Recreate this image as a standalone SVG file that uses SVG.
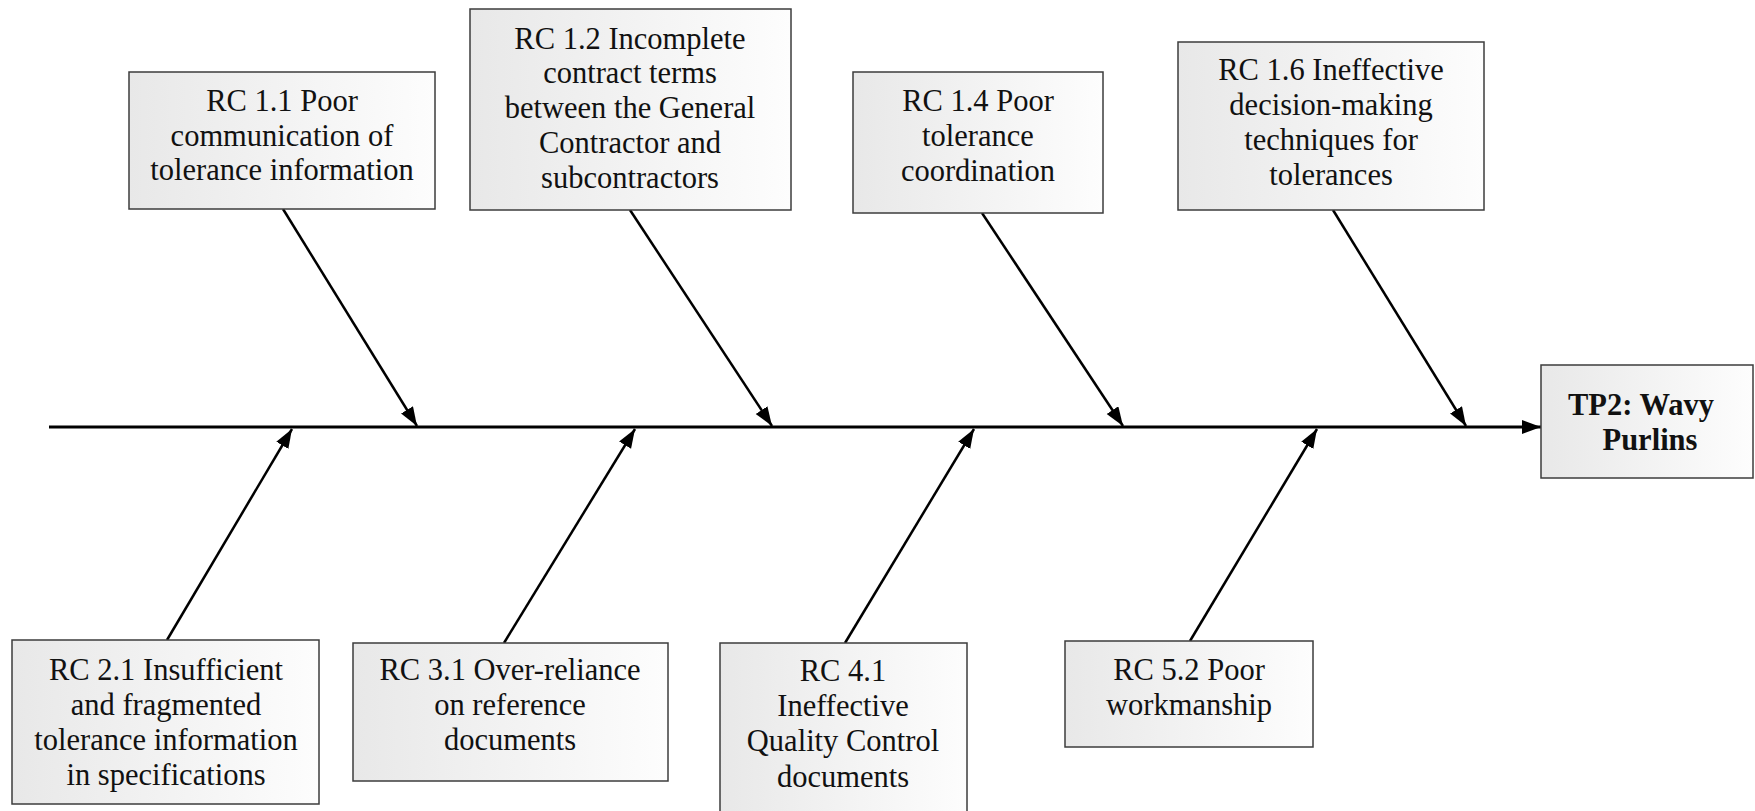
<svg xmlns="http://www.w3.org/2000/svg" width="1755" height="811" viewBox="0 0 1755 811">
  <defs>
    <linearGradient id="boxfill" x1="0" y1="0" x2="1" y2="0">
      <stop offset="0" stop-color="#e8e8e8"/>
      <stop offset="1" stop-color="#fdfdfd"/>
    </linearGradient>
    <marker id="arrow" markerUnits="userSpaceOnUse" markerWidth="20" markerHeight="15" refX="19" refY="7" orient="auto">
      <path d="M0,0 L19,7 L0,14 z" fill="#000"/>
    </marker>
    <style>
      .box { fill: url(#boxfill); stroke: #3c3c3c; stroke-width: 1.5; }
      .t { font-family: "Liberation Serif", "Times New Roman", serif; font-size: 30.5px; fill: #111; text-anchor: middle; }
      .tb { font-family: "Liberation Serif", "Times New Roman", serif; font-size: 30.5px; font-weight: bold; fill: #111; text-anchor: middle; }
      .line { stroke: #000; stroke-width: 2.5; fill: none; }
      .spine { stroke: #000; stroke-width: 3; fill: none; }
    </style>
  </defs>
  <rect width="1755" height="811" fill="#fff"/>

  <g id="connectors">
    <line class="spine" x1="49" y1="427" x2="1541" y2="427" marker-end="url(#arrow)"/>
    <line class="line" x1="283" y1="209" x2="417" y2="426" marker-end="url(#arrow)"/>
    <line class="line" x1="630" y1="210" x2="772" y2="426" marker-end="url(#arrow)"/>
    <line class="line" x1="982" y1="213" x2="1123" y2="426" marker-end="url(#arrow)"/>
    <line class="line" x1="1333" y1="210" x2="1466" y2="426" marker-end="url(#arrow)"/>
    <line class="line" x1="167" y1="640" x2="292" y2="429" marker-end="url(#arrow)"/>
    <line class="line" x1="504" y1="643" x2="635" y2="429" marker-end="url(#arrow)"/>
    <line class="line" x1="845" y1="643" x2="974" y2="429" marker-end="url(#arrow)"/>
    <line class="line" x1="1190" y1="641" x2="1317" y2="429" marker-end="url(#arrow)"/>
  </g>

  <g id="rc11">
    <rect class="box" x="129" y="72" width="306" height="137"/>
    <text class="t" x="282" y="111">RC 1.1 Poor</text>
    <text class="t" x="282" y="146">communication of</text>
    <text class="t" x="282" y="180">tolerance information</text>
  </g>

  <g id="rc12">
    <rect class="box" x="470" y="9" width="321" height="201"/>
    <text class="t" x="630" y="49">RC 1.2 Incomplete</text>
    <text class="t" x="630" y="83">contract terms</text>
    <text class="t" x="630" y="118">between the General</text>
    <text class="t" x="630" y="153">Contractor and</text>
    <text class="t" x="630" y="188">subcontractors</text>
  </g>

  <g id="rc14">
    <rect class="box" x="853" y="72" width="250" height="141"/>
    <text class="t" x="978" y="111">RC 1.4 Poor</text>
    <text class="t" x="978" y="146">tolerance</text>
    <text class="t" x="978" y="181">coordination</text>
  </g>

  <g id="rc16">
    <rect class="box" x="1178" y="42" width="306" height="168"/>
    <text class="t" x="1331" y="80">RC 1.6 Ineffective</text>
    <text class="t" x="1331" y="115">decision-making</text>
    <text class="t" x="1331" y="150">techniques for</text>
    <text class="t" x="1331" y="185">tolerances</text>
  </g>

  <g id="tp2">
    <rect class="box" x="1541" y="365" width="212" height="113"/>
    <text class="tb" x="1641" y="415">TP2: Wavy</text>
    <text class="tb" x="1650" y="450">Purlins</text>
  </g>

  <g id="rc21">
    <rect class="box" x="12" y="640" width="307" height="164"/>
    <text class="t" x="166" y="680">RC 2.1 Insufficient</text>
    <text class="t" x="166" y="715">and fragmented</text>
    <text class="t" x="166" y="750">tolerance information</text>
    <text class="t" x="166" y="785">in specifications</text>
  </g>

  <g id="rc31">
    <rect class="box" x="353" y="643" width="315" height="138"/>
    <text class="t" x="510" y="680">RC 3.1 Over-reliance</text>
    <text class="t" x="510" y="715">on reference</text>
    <text class="t" x="510" y="750">documents</text>
  </g>

  <g id="rc41">
    <rect class="box" x="720" y="643" width="247" height="170"/>
    <text class="t" x="843" y="681">RC 4.1</text>
    <text class="t" x="843" y="716">Ineffective</text>
    <text class="t" x="843" y="751">Quality Control</text>
    <text class="t" x="843" y="787">documents</text>
  </g>

  <g id="rc52">
    <rect class="box" x="1065" y="641" width="248" height="106"/>
    <text class="t" x="1189" y="680">RC 5.2 Poor</text>
    <text class="t" x="1189" y="715">workmanship</text>
  </g>
</svg>
